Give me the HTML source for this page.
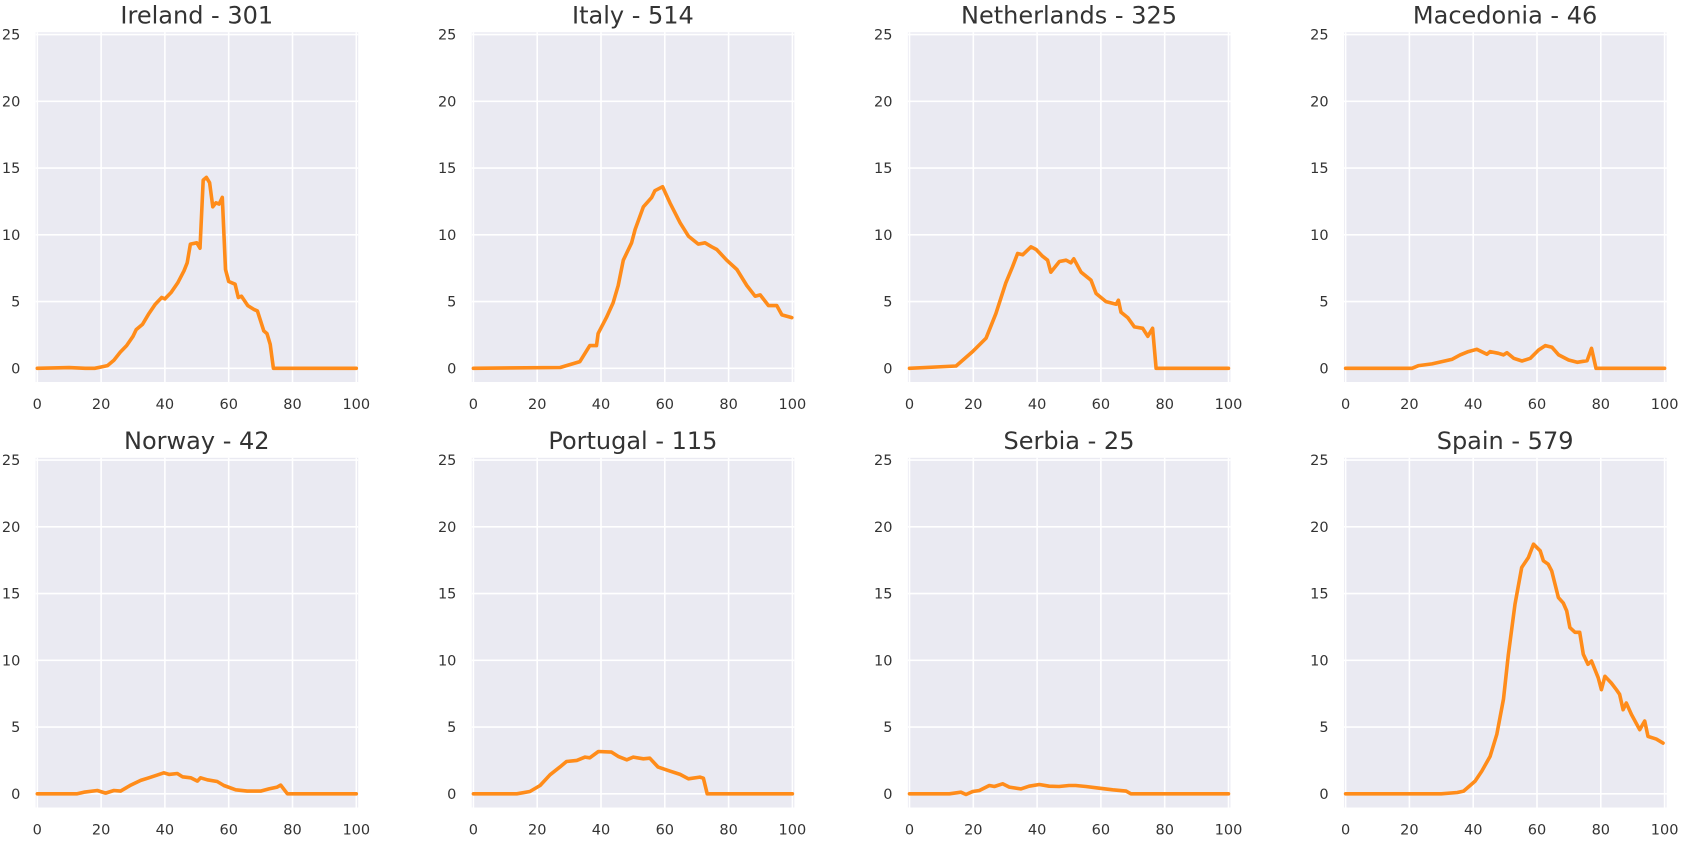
<!DOCTYPE html>
<html><head><meta charset="utf-8"><style>
html,body{margin:0;padding:0;background:#fff;}
svg{display:block;font-family:"DejaVu Sans","Liberation Sans",sans-serif;}
</style></head>
<body>
<svg id="chart" width="1689" height="848" viewBox="0 0 1689 848" xmlns="http://www.w3.org/2000/svg"></svg>
<script>
const countries = ["Ireland - 301","Italy - 514","Netherlands - 325","Macedonia - 46","Norway - 42","Portugal - 115","Serbia - 25","Spain - 579"];
const xTicks = [0,20,40,60,80,100];
const yTicks = [0,5,10,15,20,25];

const irelandX = [0,10,15,18,20,22,24,26,28,30,31,33,35,37,39,40,42,44,46,47,48,50,51,52,53,54,55,56,57,58,59,60,62,63,64,66,68,69,71,72,73,74,100];
const irelandY = [0,0.05,0,0,0.1,0.2,0.6,1.2,1.7,2.4,2.9,3.3,4.1,4.8,5.3,5.2,5.7,6.4,7.3,7.9,9.3,9.4,9.0,14.1,14.3,13.9,12.1,12.4,12.3,12.8,7.4,6.5,6.3,5.3,5.4,4.7,4.4,4.3,2.8,2.6,1.8,0,0];
const italyX = [0,27.2,33.4,36.5,38.6,39.1,41.7,43.8,45.4,47,49.6,50.7,53.3,55.9,56.9,59.3,61.6,64.8,67.4,70.5,72.6,74.7,76.3,79.4,82.6,85.7,88.3,89.9,92.5,95.1,96.7,99.8];
const italyY = [0,0.06,0.5,1.7,1.7,2.6,3.8,4.9,6.2,8.1,9.4,10.4,12.1,12.8,13.3,13.6,12.4,10.9,9.9,9.3,9.4,9.1,8.9,8.1,7.4,6.2,5.4,5.5,4.7,4.7,4.0,3.8];
const netherlandsX = [0,14.6,19.8,24,27.1,30.2,32.3,33.9,35.5,38.1,39.7,41.7,43.3,44.3,47,49.1,50.6,51.5,53.8,56.9,58.5,61.6,64.8,65.5,66.3,68.4,70.5,73.1,74.7,76.2,77.3,100];
const netherlandsY = [0,0.17,1.26,2.26,4.1,6.4,7.6,8.6,8.5,9.1,8.9,8.4,8.1,7.2,8.0,8.1,7.9,8.2,7.2,6.6,5.6,5.0,4.8,5.1,4.2,3.8,3.1,3.0,2.4,3.0,0,0];
const macedoniaX = [0,20.8,22.9,27.1,30.2,33.3,35.9,38.5,41.1,44.3,45.3,47.9,49.5,50.6,52.7,55.3,57.9,60.5,62.6,64.7,66.8,69.9,72.6,75.7,77.1,78.5,100];
const macedoniaY = [0,0,0.2,0.33,0.5,0.67,1.0,1.25,1.42,1.05,1.25,1.12,1.0,1.17,0.75,0.55,0.75,1.37,1.7,1.57,1.0,0.62,0.45,0.57,1.5,0,0];
const norwayX = [0,12.5,14.6,18.8,21.4,24,26.1,29.3,32.4,35,37.6,39.7,41.3,43.9,45.5,48.1,50.2,51.2,53.3,56.4,58.5,62.2,65.8,70,72.6,75.2,76.3,78.4,100];
const norwayY = [0,0,0.12,0.25,0.05,0.25,0.2,0.65,1.0,1.2,1.4,1.57,1.45,1.52,1.27,1.2,0.95,1.2,1.05,0.92,0.62,0.3,0.2,0.2,0.37,0.5,0.65,0,0];
const portugalX = [0,13.6,17.7,20.9,24,27.1,29.2,32.4,35,36.5,39.2,43.3,45.4,48.1,50.1,53.3,55.3,57.9,61.6,64.8,67.4,71,72.1,73.3,100];
const portugalY = [0,0,0.17,0.62,1.42,2.0,2.42,2.5,2.75,2.7,3.17,3.12,2.8,2.55,2.75,2.62,2.67,2.0,1.7,1.45,1.12,1.25,1.17,0,0];
const serbiaX = [0,12.5,16.1,17.7,19.8,21.9,25,26.6,29.2,31.3,34.9,37.5,40.7,43.8,46.9,50,52.1,55.3,59.5,63.7,67.9,69.4,100];
const serbiaY = [0,0,0.12,-0.05,0.17,0.25,0.62,0.55,0.75,0.5,0.37,0.57,0.7,0.57,0.55,0.62,0.62,0.55,0.42,0.3,0.2,0,0];
const spainX = [0,30,35,37,40.6,42.7,45.3,47.4,49.5,51,53.1,55.2,57.3,58.9,61,62,63.5,64.6,66.7,68.2,69.3,70.3,71.9,73.4,74.5,76,77.1,79.2,80.2,81.3,83.3,84.9,85.9,87,88,89.6,92.2,93.75,94.8,97.4,99.5];
const spainY = [0,0,0.1,0.2,0.95,1.7,2.8,4.45,7.1,10.4,14.2,16.95,17.7,18.7,18.2,17.45,17.2,16.7,14.7,14.3,13.7,12.45,12.1,12.1,10.45,9.7,9.95,8.7,7.8,8.8,8.3,7.8,7.45,6.3,6.8,5.95,4.8,5.45,4.3,4.1,3.8];

const seriesX = [irelandX,italyX,netherlandsX,macedoniaX,norwayX,portugalX,serbiaX,spainX];
const seriesY = [irelandY,italyY,netherlandsY,macedoniaY,norwayY,portugalY,serbiaY,spainY];

const NS = "http://www.w3.org/2000/svg";
const svg = document.getElementById("chart");
function mk(tag, attrs, parent){ const e=document.createElementNS(NS,tag); for(const k in attrs) e.setAttribute(k,attrs[k]); parent.appendChild(e); return e; }

for (let i=0;i<8;i++){
  const col=i%4, row=Math.floor(i/4);
  const x0 = 37.3 + 436.1*col;
  const y0 = 368.3 + 425.5*row;
  const sx = v => x0 + v*3.19;
  const sy = v => y0 - v*13.35;
  const slug = countries[i].split(" ")[0].toLowerCase();
  const g = mk("g",{},svg);
  
  
  const bg = mk("rect",{x:x0-1.6,y:y0-336,width:322.5,height:349.7,fill:"#EAEAF2"},g);
  
  
  xTicks.forEach(t=>{
    const l = mk("line",{x1:sx(t),x2:sx(t),y1:y0-336,y2:y0+13.7,stroke:"#fff","stroke-width":1.6},g);
    
    
    const tx = mk("text",{x:sx(t),y:y0+40.5,"text-anchor":"middle","font-size":"14.5","fill":"#333"},g);
    tx.textContent=t;
    
    
  });
  yTicks.forEach(t=>{
    const l = mk("line",{x1:x0-1.6,x2:x0+320.9,y1:sy(t),y2:sy(t),stroke:"#fff","stroke-width":1.6},g);
    
    
    const tx = mk("text",{x:x0-17,y:sy(t)+5,"text-anchor":"end","font-size":"14.5","fill":"#333"},g);
    tx.textContent=t;
    
    
  });
  const xs=seriesX[i], ys=seriesY[i];
  let d="";
  for(let k=0;k<xs.length;k++) d += (k?"L":"M")+sx(xs[k]).toFixed(1)+","+sy(ys[k]).toFixed(1);
  const p = mk("path",{d:d,fill:"none",stroke:"#FF8C1A","stroke-width":3.6,"stroke-linejoin":"round","stroke-linecap":"round"},g);
  
  
  const title = mk("text",{x:x0+159.5,y:y0-345,"text-anchor":"middle","font-size":"24","fill":"#333"},g);
  title.textContent = countries[i];
  
  
}
</script>
</body></html>
